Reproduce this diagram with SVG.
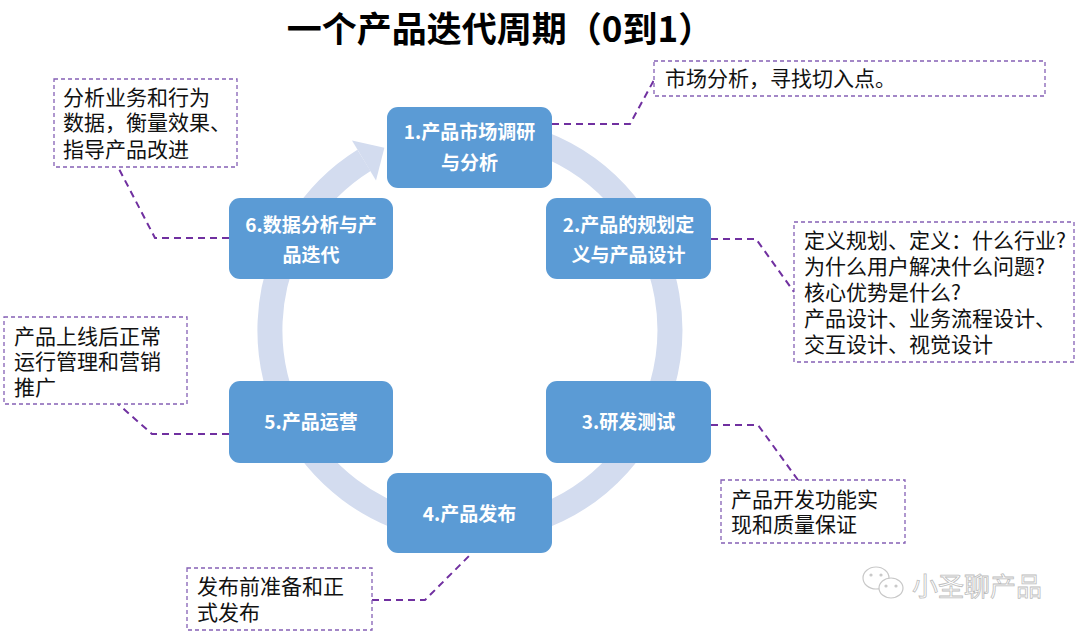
<svg xmlns="http://www.w3.org/2000/svg" width="1080" height="633" viewBox="0 0 1080 633">
<style>
.title{font-family:"Noto Sans CJK SC","Liberation Sans",sans-serif;font-weight:bold;font-size:35px;fill:#000}
.node rect{fill:#5B9BD5}
.node text{font-family:"Noto Sans CJK SC","Liberation Sans",sans-serif;font-weight:bold;font-size:19px;fill:#fff;text-anchor:middle}
.note rect{fill:#fff;stroke:#8560B5;stroke-width:1.3;stroke-dasharray:4 3}
.note text{font-family:"Noto Sans CJK SC","Liberation Sans",sans-serif;font-size:21px;fill:#111}
.conn path{fill:none;stroke:#7030A0;stroke-width:2;stroke-dasharray:7 5}
.ring{fill:none;stroke:#D3DCEF;stroke-width:25}
.wm{font-family:"Noto Sans CJK SC",sans-serif;font-size:26px;fill:#fff;stroke:#BDBDBD;stroke-width:0.8}
</style>

<text class="title" x="500" y="42" text-anchor="middle">一个产品迭代周期（0到1）</text>

<g id="cycle">
<path class="ring" d="M452.6,130.8 A200,200 0 1 1 364,160.4"/>
<polygon points="352,140.4 376,180.4 384.4,147.7" fill="#D3DCEF"/>
</g>

<g id="connectors" class="conn">
<path d="M552,124 L630,124 L654,80"/>
<path d="M711,239 L756,239 L794,292"/>
<path d="M711,425 L758,425 L798,480"/>
<path d="M372,600 L425,600 L470,555"/>
<path d="M229,434 L152,434 L118,404"/>
<path d="M229,238 L155,238 L118,167"/>
</g>

<g id="node1" class="node"><rect x="387" y="107" width="165" height="81" rx="11"/><text x="469.5" y="139">1.产品市场调研</text><text x="469.5" y="170">与分析</text></g>
<g id="node2" class="node"><rect x="546" y="198" width="165" height="81" rx="11"/><text x="628.5" y="232">2.产品的规划定</text><text x="628.5" y="262">义与产品设计</text></g>
<g id="node3" class="node"><rect x="546" y="381" width="165" height="82" rx="11"/><text x="628.5" y="429">3.研发测试</text></g>
<g id="node4" class="node"><rect x="387" y="473" width="165" height="80" rx="11"/><text x="469.5" y="521">4.产品发布</text></g>
<g id="node5" class="node"><rect x="229" y="381" width="164" height="82" rx="11"/><text x="311" y="429">5.产品运营</text></g>
<g id="node6" class="node"><rect x="229" y="198" width="164" height="81" rx="11"/><text x="311" y="232">6.数据分析与产</text><text x="311" y="262">品迭代</text></g>

<g id="note1" class="note"><rect x="654" y="61" width="391" height="35"/><text x="665" y="86">市场分析，寻找切入点。</text></g>
<g id="note2" class="note"><rect x="794" y="222" width="280" height="140"/>
<text x="804" y="248">定义规划、定义：什么行业?</text>
<text x="804" y="274">为什么用户解决什么问题?</text>
<text x="804" y="300">核心优势是什么?</text>
<text x="804" y="326">产品设计、业务流程设计、</text>
<text x="804" y="352">交互设计、视觉设计</text></g>
<g id="note3" class="note"><rect x="721" y="480" width="184" height="63"/><text x="731" y="507">产品开发功能实</text><text x="731" y="532">现和质量保证</text></g>
<g id="note4" class="note"><rect x="187" y="568" width="185" height="62"/><text x="197" y="594">发布前准备和正</text><text x="197" y="620">式发布</text></g>
<g id="note5" class="note"><rect x="4" y="317" width="183" height="87"/><text x="14" y="344">产品上线后正常</text><text x="14" y="369">运行管理和营销</text><text x="14" y="395">推广</text></g>
<g id="note6" class="note"><rect x="54" y="79" width="183" height="88"/><text x="63" y="105">分析业务和行为</text><text x="63" y="130">数据，衡量效果、</text><text x="63" y="157">指导产品改进</text></g>

<g id="watermark" fill="#fff" stroke="#C8C8C8" stroke-width="1.2">
<ellipse cx="876" cy="578" rx="13" ry="11"/>
<ellipse cx="891" cy="588" rx="12" ry="10"/>
<circle cx="886" cy="586" r="1" fill="#C8C8C8"/>
<circle cx="896" cy="586" r="1" fill="#C8C8C8"/>
<circle cx="871" cy="575" r="1" fill="#C8C8C8"/>
<circle cx="881" cy="575" r="1" fill="#C8C8C8"/>
<text class="wm" x="912" y="596">小圣聊产品</text>
</g>
</svg>
